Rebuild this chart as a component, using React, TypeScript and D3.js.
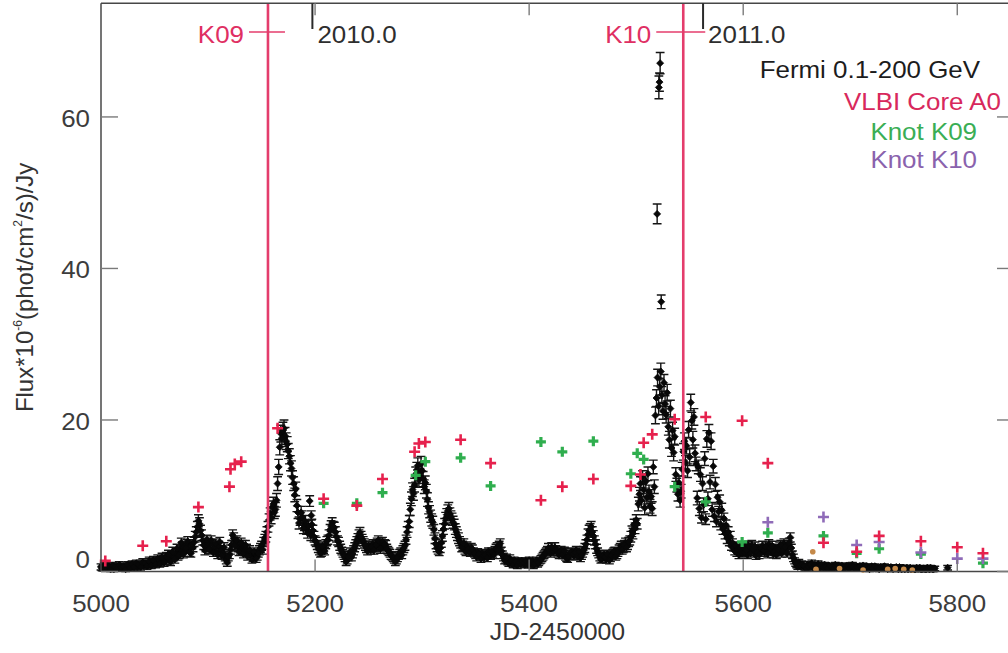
import React from 'react';
import * as d3 from 'd3';

const W = 1008;
const H = 653;

// Fermi-LAT 0.1-200 GeV light curve: [JD-2450000, flux, 1-sigma error]
const fermi: [number, number, number][] = [
  [5000,0.6,0.4],[5002,0.5,0.4],[5004,0.7,0.4],[5006,0.4,0.3],[5008,0.6,0.4],[5010,0.5,0.4],[5012,0.3,0.3],[5014,0.6,0.4],
  [5016,0.5,0.3],[5018,0.7,0.4],[5020,0.4,0.3],[5022,0.6,0.4],[5024,0.5,0.4],[5026,0.8,0.4],[5028,0.6,0.4],[5030,0.7,0.4],
  [5032,0.9,0.4],[5034,0.6,0.4],[5036,0.8,0.4],[5038,1.0,0.5],[5040,0.8,0.4],[5042,1.0,0.4],[5044,0.9,0.4],[5046,1.2,0.5],
  [5048,1.0,0.4],[5050,1.3,0.5],[5052,1.1,0.4],[5054,1.4,0.5],[5056,1.2,0.5],[5058,1.6,0.5],[5060,1.4,0.5],[5062,1.8,0.5],
  [5064,1.5,0.5],[5066,2.1,0.5],[5068,1.9,0.5],[5070,2.4,0.6],[5072,2.0,0.5],[5074,2.8,0.6],[5076,3.3,0.6],[5078,2.6,0.6],
  [5080,3.6,0.6],[5082,3.0,0.6],[5084,2.4,0.5],[5086,3.2,0.6],[5088,4.6,0.7],[5090,5.9,0.7],[5092,6.3,0.8],[5094,4.8,0.7],
  [5096,3.5,0.6],[5098,3.2,0.6],[5100,3.8,0.6],[5102,2.9,0.6],[5104,3.6,0.6],[5106,3.1,0.6],[5108,2.6,0.6],[5110,3.4,0.6],
  [5112,2.8,0.6],[5114,2.4,0.5],[5116,1.9,0.5],[5118,1.2,0.5],[5120,2.2,0.5],[5122,3.5,0.6],[5124,4.4,0.7],[5126,3.9,0.6],
  [5128,3.2,0.6],[5130,2.9,0.6],[5132,3.5,0.6],[5134,2.7,0.6],[5136,3.0,0.6],[5138,2.4,0.5],[5140,2.1,0.5],[5142,1.8,0.5],
  [5144,2.3,0.5],[5146,2.0,0.5],[5148,2.8,0.6],[5150,3.4,0.6],[5152,3.9,0.6],[5154,4.6,0.7],[5156,5.9,0.7],[5158,7.6,0.8],
  [5160,8.5,0.8],[5162,7.8,0.8],[5164,9.4,0.9],[5166,13.8,1.0],[5168,18.2,1.1],[5170,18.6,1.1],[5172,17.9,1.1],[5174,16.8,1.0],
  [5176,15.2,1.0],[5178,13.6,1.0],[5180,11.6,0.9],[5182,10.9,0.9],[5184,7.8,0.8],[5186,6.9,0.8],[5188,7.2,0.8],[5190,6.1,0.7],
  [5192,5.6,0.7],[5194,6.0,0.7],[5195,9.3,0.7],[5196.5,7.4,0.6],[5196,4.8,0.7],[5198,5.4,0.7],[5200,4.1,0.6],[5202,3.5,0.6],
  [5204,2.8,0.6],[5206,2.5,0.5],[5208,3.0,0.6],[5210,3.6,0.6],[5212,4.2,0.6],[5214,5.5,0.7],[5216,6.4,0.7],[5218,5.8,0.7],
  [5220,4.6,0.7],[5222,3.9,0.6],[5224,3.0,0.6],[5226,2.4,0.5],[5228,1.8,0.5],[5230,1.5,0.5],[5232,2.2,0.5],[5234,1.9,0.5],
  [5236,2.8,0.6],[5238,3.6,0.6],[5240,4.4,0.6],[5242,5.1,0.7],[5244,4.3,0.6],[5246,3.7,0.6],[5248,3.1,0.6],[5250,3.4,0.6],
  [5252,2.9,0.6],[5254,3.6,0.6],[5256,3.2,0.6],[5258,3.8,0.6],[5260,3.4,0.6],[5262,3.7,0.6],[5264,3.3,0.6],[5266,3.5,0.6],
  [5268,2.8,0.5],[5270,2.4,0.5],[5272,2.0,0.5],[5274,1.6,0.5],[5276,1.5,0.5],[5278,2.1,0.5],[5280,2.6,0.5],[5282,2.8,0.6],
  [5284,3.4,0.6],[5286,5.2,0.7],[5288,6.6,0.8],[5290,9.6,0.9],[5292,10.3,0.9],[5294,12.8,1.0],[5296,14.0,1.0],[5298,12.6,1.0],
  [5300,13.3,1.0],[5302,11.2,0.9],[5304,10.6,0.9],[5306,8.4,0.8],[5308,7.3,0.8],[5310,6.5,0.8],[5312,4.4,0.7],[5314,3.2,0.6],
  [5316,2.6,0.5],[5318,3.8,0.6],[5320,5.6,0.7],[5322,7.0,0.8],[5324,8.0,0.8],[5326,7.6,0.8],[5328,6.9,0.8],[5330,6.2,0.7],
  [5332,5.2,0.7],[5334,4.4,0.7],[5336,3.7,0.6],[5338,3.4,0.6],[5340,2.9,0.6],[5342,3.3,0.6],[5344,2.8,0.5],[5346,3.1,0.6],
  [5348,2.6,0.5],[5350,2.2,0.5],[5352,2.5,0.5],[5354,2.0,0.5],[5356,2.4,0.5],[5358,1.9,0.5],[5360,2.3,0.5],[5362,2.6,0.5],
  [5364,2.1,0.5],[5366,2.4,0.5],[5368,2.8,0.5],[5370,3.2,0.6],[5372,3.4,0.6],[5374,2.7,0.5],[5376,1.9,0.5],[5378,1.6,0.5],
  [5380,1.3,0.4],[5382,1.7,0.5],[5384,1.2,0.4],[5386,1.5,0.4],[5388,1.1,0.4],[5390,1.4,0.4],[5392,1.0,0.4],[5394,1.3,0.4],
  [5396,0.9,0.4],[5398,1.2,0.4],[5400,1.5,0.4],[5402,1.1,0.4],[5404,0.8,0.4],[5406,1.2,0.4],[5408,1.0,0.4],[5410,1.4,0.4],
  [5412,1.8,0.5],[5414,2.2,0.5],[5416,2.6,0.5],[5418,3.1,0.6],[5420,2.4,0.5],[5422,2.9,0.5],[5424,3.2,0.6],[5426,2.6,0.5],
  [5428,2.2,0.5],[5430,2.8,0.5],[5432,2.5,0.5],[5434,2.0,0.5],[5436,1.7,0.5],[5438,2.3,0.5],[5440,2.6,0.5],[5442,2.1,0.5],
  [5444,2.8,0.5],[5446,2.3,0.5],[5448,1.8,0.5],[5450,2.4,0.5],[5452,3.1,0.6],[5454,4.2,0.6],[5456,5.4,0.7],[5458,5.9,0.7],
  [5460,4.7,0.7],[5462,3.6,0.6],[5464,2.6,0.5],[5466,1.9,0.5],[5468,1.7,0.5],[5470,2.2,0.5],[5472,1.6,0.5],[5474,2.0,0.5],
  [5476,1.8,0.5],[5478,2.4,0.5],[5480,2.7,0.5],[5482,2.2,0.5],[5484,2.9,0.6],[5486,3.4,0.6],[5488,3.1,0.6],[5490,3.8,0.6],
  [5492,3.5,0.6],[5494,4.1,0.6],
  [5495,4.6,0.7],[5496,5.3,0.7],[5497,5.0,0.7],[5498,6.2,0.7],[5499,5.7,0.7],[5500,6.8,0.7],[5501,6.3,0.7],[5502,8.9,0.9],
  [5503,10.2,0.9],[5504,11.6,0.9],[5505,9.4,0.9],[5506,12.4,0.9],[5507,10.8,0.9],[5508,8.4,0.9],[5509,11.9,0.9],[5510,9.8,0.9],
  [5511,12.9,0.9],[5512,10.5,0.9],[5513,8.6,0.9],[5514,9.9,0.9],[5515,8.3,0.9],[5516,13.8,0.9],[5517,11.2,0.9],[5518,20.6,1.1],
  [5519,22.9,1.1],[5520,25.6,1.1],[5521,21.8,1.1],[5522,24.4,1.1],[5523,26.4,1.1],[5524,23.3,1.1],[5525,21.2,1.1],[5526,24.9,1.1],
  [5527,22.1,1.1],[5528,20.7,1.1],[5529,23.6,1.1],[5530,19.1,1.1],[5531,17.4,1.1],[5532,21.5,1.1],[5533,16.3,1.1],[5534,18.6,1.1],
  [5535,15.7,1.1],[5536,17.8,1.1],[5537,12.8,0.9],[5538,11.4,0.9],[5539,10.2,0.9],[5540,11.7,0.9],[5541,9.4,0.9],[5542,10.6,0.9],
  [5543,13.5,0.9],[5544,15.8,1.1],[5545,17.2,1.1],[5546,14.4,0.9],[5547,16.6,1.1],[5548,13.3,0.9],[5549,18.7,1.1],[5550,15.1,1.1],
  [5551,22.3,1.1],[5552,19.9,1.1],[5553,17.4,1.1],[5554,20.4,1.1],[5555,15.6,1.1],[5556,14.2,0.9],[5557,9.7,0.9],[5558,13.8,0.9],
  [5559,8.3,0.9],[5560,12.8,0.9],[5561,7.1,0.7],[5562,11.6,0.9],[5563,8.8,0.9],[5564,14.9,0.9],[5565,6.9,0.7],[5566,17.5,1.1],
  [5567,9.6,0.9],[5568,18.3,1.1],[5569,11.8,0.9],[5570,17.2,1.1],[5571,8.2,0.9],[5572,13.9,0.9],[5573,7.3,0.7],[5574,11.5,0.9],
  [5575,6.6,0.7],[5576,9.8,0.9],[5577,7.9,0.7],[5578,9.2,0.9],[5579,6.2,0.7],[5580,8.1,0.9],[5581,5.6,0.7],[5582,7.0,0.7],
  [5583,5.0,0.7],[5584,6.1,0.7],[5585,4.4,0.7],[5586,5.2,0.7],[5587,3.9,0.5],[5588,4.6,0.7],[5589,3.3,0.5],[5590,3.8,0.5],
  [5591,3.2,0.5],[5592,2.7,0.5],[5593,3.4,0.5],[5594,2.5,0.5],[5595,2.9,0.5],[5596,2.2,0.5],[5597,3.1,0.5],[5598,2.6,0.5],
  [5599,2.4,0.5],[5600,3.2,0.5],
  [5602,3.3,0.5],[5604,2.2,0.5],[5606,2.9,0.5],[5608,3.5,0.6],[5610,2.6,0.5],[5612,2.1,0.5],[5614,3.0,0.5],[5616,2.7,0.5],
  [5618,3.4,0.6],[5620,2.5,0.5],[5622,2.9,0.5],[5624,3.6,0.6],[5626,2.8,0.5],[5628,2.3,0.5],[5630,3.1,0.5],[5632,2.6,0.5],
  [5634,3.3,0.6],[5636,2.4,0.5],[5638,3.7,0.6],[5640,2.9,0.5],[5642,3.5,0.6],[5644,4.5,0.6],[5646,2.2,0.5],[5648,1.4,0.4],
  [5650,0.9,0.4],[5652,1.2,0.4],[5654,0.6,0.3],[5656,0.8,0.3],[5658,0.5,0.3],[5660,0.9,0.4],[5662,0.7,0.3],[5664,1.1,0.4],
  [5666,0.6,0.3],[5668,0.8,0.3],[5670,1.0,0.4],[5672,0.5,0.3],[5674,0.7,0.3],[5676,0.9,0.3],[5678,0.6,0.3],[5680,0.8,0.3],
  [5682,0.4,0.3],[5684,0.7,0.3],[5686,0.9,0.3],[5688,0.5,0.3],[5690,0.6,0.3],[5692,0.8,0.3],[5694,0.4,0.3],[5696,0.7,0.3],
  [5698,0.5,0.3],[5700,0.6,0.3],[5702,0.9,0.3],[5704,0.5,0.3],[5706,0.7,0.3],[5708,0.4,0.3],[5710,0.6,0.3],[5712,0.8,0.3],
  [5714,0.5,0.3],[5716,0.6,0.3],[5718,0.3,0.3],[5720,0.7,0.3],[5722,0.5,0.3],[5724,0.6,0.3],[5726,0.4,0.3],[5728,0.6,0.3],
  [5730,0.5,0.3],[5732,0.7,0.3],[5734,0.4,0.3],[5736,0.5,0.3],[5738,0.6,0.3],[5740,0.3,0.3],[5742,0.5,0.3],[5744,0.4,0.3],
  [5746,0.6,0.3],[5748,0.3,0.3],[5750,0.5,0.3],[5752,0.4,0.3],[5754,0.3,0.3],[5756,0.5,0.3],[5758,0.4,0.3],[5760,0.3,0.3],
  [5762,0.5,0.3],[5764,0.4,0.3],[5766,0.3,0.3],[5768,0.4,0.3],[5770,0.3,0.3],[5772,0.5,0.3],[5774,0.3,0.3],[5776,0.4,0.3],
  [5778,0.3,0.3],[5791,0.5,0.3],
];

// Interleaved bins on odd days, outside the densely sampled flare
const fermiOddDays: [number, number, number][] = [
  [5001,0.4,0.3],[5003,0.8,0.4],[5005,0.5,0.3],[5007,0.7,0.4],[5009,0.3,0.3],[5011,0.8,0.4],[5013,0.6,0.4],[5015,0.4,0.3],
  [5017,0.9,0.4],[5019,0.6,0.4],[5021,0.7,0.4],[5023,0.3,0.3],[5025,0.9,0.4],[5027,0.5,0.3],[5029,1.0,0.4],[5031,0.6,0.4],
  [5033,1.1,0.4],[5035,0.9,0.4],[5037,0.6,0.4],[5039,1.2,0.5],[5041,1.1,0.4],[5043,0.7,0.4],[5045,1.4,0.5],[5047,0.8,0.4],
  [5049,1.5,0.5],[5051,0.9,0.4],[5053,1.7,0.5],[5055,1.0,0.4],[5057,1.9,0.5],[5059,1.2,0.5],[5061,2.0,0.5],[5063,2.3,0.5],
  [5065,1.3,0.5],[5067,2.6,0.6],[5069,1.6,0.5],[5071,3.0,0.6],[5073,2.2,0.5],[5075,3.8,0.6],[5077,2.3,0.5],[5079,3.1,0.6],
  [5081,4.0,0.6],[5083,2.5,0.5],[5085,3.6,0.6],[5087,3.9,0.6],[5089,5.2,0.7],[5091,6.7,0.8],[5093,5.4,0.7],[5095,4.1,0.6],
  [5097,2.8,0.6],[5099,4.2,0.6],[5101,3.0,0.6],[5103,4.1,0.6],[5105,2.5,0.5],[5107,3.7,0.6],[5109,2.2,0.5],[5111,3.9,0.6],
  [5113,2.1,0.5],[5115,3.2,0.6],[5117,1.5,0.5],[5119,1.9,0.5],[5121,2.9,0.6],[5123,4.8,0.7],[5125,3.4,0.6],[5127,4.1,0.6],
  [5129,2.6,0.5],[5131,3.8,0.6],[5133,2.3,0.5],[5135,3.5,0.6],[5137,2.0,0.5],[5139,2.8,0.6],[5141,1.6,0.5],[5143,2.6,0.5],
  [5145,1.7,0.5],[5147,2.4,0.5],[5149,3.1,0.6],[5151,2.9,0.6],[5153,4.3,0.6],[5155,5.2,0.7],[5157,6.8,0.8],[5159,7.1,0.8],
  [5161,8.9,0.9],[5163,8.2,0.9],[5165,11.6,0.9],[5167,16.4,1.0],[5169,17.6,1.1],[5171,18.9,1.1],[5173,17.2,1.1],[5175,15.9,1.0],
  [5177,14.3,1.0],[5179,12.4,0.9],[5181,10.1,0.9],[5183,8.7,0.8],[5185,6.4,0.8],[5187,7.8,0.8],[5189,5.7,0.7],[5191,6.6,0.8],
  [5193,5.1,0.7],[5197,6.2,0.7],[5199,4.6,0.7],[5201,3.9,0.6],[5203,3.1,0.6],[5205,2.4,0.5],[5207,3.3,0.6],[5209,2.7,0.5],
  [5211,4.0,0.6],[5213,4.8,0.7],[5215,6.0,0.7],[5217,5.9,0.7],[5219,5.2,0.7],[5221,4.1,0.6],[5223,3.4,0.6],[5225,2.7,0.5],
  [5227,2.1,0.5],[5229,1.3,0.5],[5231,1.9,0.5],[5233,2.6,0.5],[5235,2.3,0.5],[5237,3.2,0.6],[5239,4.0,0.6],[5241,4.8,0.7],
  [5243,4.6,0.7],[5245,4.0,0.6],[5247,3.4,0.6],[5249,2.7,0.5],[5251,3.1,0.6],[5253,3.3,0.6],[5255,2.8,0.5],[5257,3.5,0.6],
  [5259,4.1,0.6],[5261,3.0,0.6],[5263,3.9,0.6],[5265,3.6,0.6],[5267,3.0,0.6],[5269,2.6,0.5],[5271,2.1,0.5],[5273,1.8,0.5],
  [5275,1.3,0.5],[5277,1.8,0.5],[5279,2.4,0.5],[5281,2.2,0.5],[5283,3.1,0.6],[5285,4.2,0.6],[5287,5.9,0.7],[5289,8.2,0.8],
  [5291,10.8,0.9],[5293,11.4,0.9],[5295,13.4,1.0],[5297,12.1,1.0],[5299,14.2,1.0],[5301,12.2,1.0],[5303,11.7,0.9],[5305,9.5,0.9],
  [5307,7.9,0.8],[5309,6.8,0.8],[5311,5.5,0.7],[5313,3.6,0.6],[5315,2.9,0.6],[5317,3.1,0.6],[5319,4.7,0.7],[5321,6.3,0.7],
  [5323,7.5,0.8],[5325,8.3,0.8],[5327,7.2,0.8],[5329,6.5,0.8],[5331,5.6,0.7],[5333,4.8,0.7],[5335,4.0,0.6],[5337,3.2,0.6],
  [5339,3.7,0.6],[5341,2.6,0.5],[5343,3.0,0.6],[5345,2.5,0.5],[5347,2.9,0.6],[5349,2.4,0.5],[5351,1.9,0.5],[5353,2.3,0.5],
  [5355,1.7,0.5],[5357,2.1,0.5],[5359,2.2,0.5],[5361,1.8,0.5],[5363,2.4,0.5],[5365,2.6,0.5],[5367,2.2,0.5],[5369,3.0,0.6],
  [5371,2.8,0.5],[5373,3.7,0.6],[5375,2.2,0.5],[5377,1.5,0.5],[5379,1.8,0.5],[5381,1.1,0.4],[5383,1.4,0.4],[5385,0.9,0.4],
  [5387,1.3,0.4],[5389,0.8,0.4],[5391,1.2,0.4],[5393,1.4,0.4],[5395,1.1,0.4],[5397,1.4,0.4],[5399,0.9,0.4],[5401,1.3,0.4],
  [5403,1.4,0.4],[5405,1.0,0.4],[5407,1.5,0.4],[5409,1.2,0.4],[5411,1.6,0.5],[5413,2.0,0.5],[5415,2.4,0.5],[5417,2.8,0.5],
  [5419,2.7,0.5],[5421,3.2,0.6],[5423,2.6,0.5],[5425,2.9,0.5],[5427,2.4,0.5],[5429,2.6,0.5],[5431,2.2,0.5],[5433,2.7,0.5],
  [5435,1.8,0.5],[5437,2.0,0.5],[5439,2.5,0.5],[5441,2.3,0.5],[5443,2.5,0.5],[5445,2.0,0.5],[5447,2.6,0.5],[5449,2.1,0.5],
  [5451,2.8,0.5],[5453,3.6,0.6],[5455,4.9,0.7],[5457,5.6,0.7],[5459,5.2,0.7],[5461,4.1,0.6],[5463,3.0,0.6],[5465,2.3,0.5],
  [5467,1.6,0.5],[5469,2.0,0.5],[5471,1.9,0.5],[5473,2.3,0.5],[5475,1.5,0.5],[5477,2.1,0.5],[5479,2.6,0.5],[5481,2.0,0.5],
  [5483,2.5,0.5],[5485,3.1,0.6],[5487,2.9,0.6],[5489,3.5,0.6],[5491,3.2,0.6],[5493,3.9,0.6],
  [5601,2.5,0.5],[5603,2.8,0.5],[5605,3.4,0.6],[5607,2.4,0.5],[5609,3.0,0.5],[5611,3.3,0.6],[5613,2.5,0.5],[5615,2.2,0.5],
  [5617,3.1,0.5],[5619,2.8,0.5],[5621,3.3,0.6],[5623,2.3,0.5],[5625,3.1,0.5],[5627,3.4,0.6],[5629,2.6,0.5],[5631,2.2,0.5],
  [5633,2.9,0.5],[5635,3.5,0.6],[5637,2.7,0.5],[5639,3.2,0.6],[5641,2.4,0.5],[5643,3.8,0.6],[5645,3.1,0.5],[5647,1.8,0.5],
  [5649,1.1,0.4],[5651,0.6,0.3],[5653,0.9,0.4],[5655,1.0,0.4],[5657,0.7,0.3],[5659,0.4,0.3],[5661,0.6,0.3],[5663,0.9,0.3],
  [5665,0.5,0.3],[5667,0.9,0.3],[5669,0.6,0.3],[5671,0.8,0.3],[5673,0.9,0.3],[5675,0.5,0.3],[5677,0.6,0.3],[5679,0.4,0.3],
  [5681,0.7,0.3],[5683,0.6,0.3],[5685,0.5,0.3],[5687,0.7,0.3],[5689,0.8,0.3],[5691,0.4,0.3],[5693,0.6,0.3],[5695,0.5,0.3],
  [5697,0.8,0.3],[5699,0.4,0.3],[5701,0.7,0.3],[5703,0.6,0.3],[5705,0.4,0.3],[5707,0.5,0.3],[5709,0.7,0.3],[5711,0.4,0.3],
  [5713,0.6,0.3],[5715,0.7,0.3],[5717,0.4,0.3],[5719,0.5,0.3],[5721,0.4,0.3],[5723,0.7,0.3],[5725,0.5,0.3],[5727,0.3,0.3],
  [5729,0.4,0.3],[5731,0.6,0.3],[5733,0.5,0.3],[5735,0.3,0.3],[5737,0.4,0.3],[5739,0.5,0.3],[5741,0.4,0.3],[5743,0.6,0.3],
  [5745,0.3,0.3],[5747,0.4,0.3],[5749,0.5,0.3],[5751,0.3,0.3],[5753,0.5,0.3],[5755,0.4,0.3],[5757,0.3,0.3],[5759,0.4,0.3],
  [5761,0.3,0.3],[5763,0.4,0.3],[5765,0.5,0.3],[5767,0.3,0.3],[5769,0.4,0.3],[5771,0.3,0.3],[5773,0.4,0.3],[5775,0.5,0.3],
  [5777,0.3,0.3],[5779,0.4,0.3],
];

// The giant flare around JD 2455520
const fermiFlare: [number, number, number][] = [
  [5519.6,47.2,1.3],[5521.2,63.9,1.5],[5521.8,64.6,1.2],[5522.4,67.1,1.4],[5523.4,35.6,0.9],
];

// Low-significance bins (drawn in brown)
const fermiFaint: [number, number][] = [
  [5665,2.6],[5668,0.3],[5690,0.4],[5712,0.2],[5735,0.3],[5742,0.4],[5750,0.3],[5758,0.2],
];

// 43 GHz VLBI flux densities (Jy)
const vlbiCore: [number, number][] = [
  [5004,1.4],[5039,3.4],[5061,4.0],[5091,8.5],[5120,11.2],[5121,13.5],[5125,14.2],[5131,14.5],[5165,18.9],
  [5208,9.6],[5239,8.7],[5263,12.2],[5293,15.8],[5297,16.9],[5303,17.1],[5336,17.4],[5364,14.3],[5411,9.4],
  [5431,11.2],[5460,12.2],[5495,11.3],[5504,12.8],[5507,17.0],[5515,18.1],[5536,20.1],[5565,20.4],[5599,19.9],
  [5623,14.3],[5675,3.8],[5706,2.6],[5727,4.7],[5766,4.0],[5800,3.2],[5824,2.4],
];
const knotK09: [number, number][] = [
  [5208,9.0],[5239,9.0],[5263,10.4],[5294,12.7],[5303,14.5],[5336,15.0],[5364,11.3],[5411,17.1],[5431,15.8],
  [5460,17.2],[5495,12.9],[5501,15.6],[5507,14.8],[5536,11.2],[5565,9.2],[5599,3.9],[5623,5.1],[5675,4.7],
  [5706,2.4],[5727,3.0],[5766,2.3],[5824,1.1],
];
const knotK10: [number, number][] = [
  [5623,6.5],[5675,7.2],[5706,3.5],[5727,3.9],[5766,2.5],[5800,1.7],[5824,1.7],
];

// Ejection epochs of the knots and calendar year boundaries
const knotEpochs = [
  { name: 'K09', jd: 5156, left: 19, right: 17 },
  { name: 'K10', jd: 5544, left: 27, right: 22 },
];
const yearMarks = [
  { label: '2010.0', jd: 5197.5 },
  { label: '2011.0', jd: 5562.5 },
];

const xTicks = [5000, 5200, 5400, 5600, 5800];
const yTicks = [0, 20, 40, 60];

const legendItems = [
  { text: 'Fermi 0.1-200 GeV', color: '#1c1c1c', x: 980, y: 78 },
  { text: 'VLBI Core A0', color: '#d8285c', x: 1001, y: 110 },
  { text: 'Knot K09', color: '#3aae55', x: 977, y: 140 },
  { text: 'Knot K10', color: '#8a62ad', x: 977, y: 168 },
];

const FONT = '"Liberation Sans", Arial, Helvetica, sans-serif';
const RED_LINE = '#e43d6c';
const RED = '#e6214d';
const GREEN = '#2fae4e';
const PURPLE = '#8f6bb8';

const x = d3.scaleLinear().domain([5000, 5853]).range([101, 1014]);
const y = d3.scaleLinear().domain([0, 75]).range([571.5, 3.3]);

type TProps = {
  x: number;
  y: number;
  anchor?: 'start' | 'middle' | 'end';
  size?: number;
  fill?: string;
  children: React.ReactNode;
};

// Text slightly widened horizontally, like the original plot's lettering
function T({ x: tx, y: ty, anchor = 'start', size = 24, fill = '#3a3a3a', children }: TProps) {
  return (
    <g transform={`translate(${tx},${ty}) scale(1.08,1)`}>
      <text textAnchor={anchor} fontSize={size} fill={fill} fontFamily={FONT}>
        {children}
      </text>
    </g>
  );
}

function cross(cx: number, cy: number, s: number) {
  return `M${cx - s},${cy}H${cx + s}M${cx},${cy - s}V${cy + s}`;
}

function diamond(cx: number, cy: number, s: number) {
  return `M${cx},${cy - s}L${cx + s},${cy}L${cx},${cy + s}L${cx - s},${cy}Z`;
}

function errBar(cx: number, lo: number, hi: number, cap: number) {
  return `M${cx},${lo}V${hi}M${cx - cap},${lo}H${cx + cap}M${cx - cap},${hi}H${cx + cap}`;
}

export default function App() {
  const x0 = x.range()[0];
  const x1 = x.range()[1];
  const y0 = y.range()[0];
  const y1 = y.range()[1];
  const all = [...fermi, ...fermiOddDays, ...fermiFlare];

  return (
    <svg
      width={W}
      height={H}
      viewBox={`0 0 ${W} ${H}`}
      style={{ position: 'absolute', left: 0, top: 0, background: '#fff' }}
    >
      <rect width={W} height={H} fill="#fff" />

      {/* Fermi error bars and points */}
      <g stroke="#141414" strokeWidth={1.4} fill="none">
        {all.map(([d, f, e], i) => (
          <path key={i} d={errBar(x(d), y(Math.max(0, f - e)), y(f + e), 4.4)} />
        ))}
      </g>
      <g fill="#080808" stroke="#080808" strokeWidth={0.8}>
        {all.map(([d, f], i) => (
          <path key={i} d={diamond(x(d), y(f), 3.5)} />
        ))}
      </g>
      <g fill="#c58a4a">
        {fermiFaint.map(([d, f], i) => (
          <circle key={i} cx={x(d)} cy={y(f)} r={2.8} />
        ))}
      </g>

      {/* Knot ejection epochs */}
      {knotEpochs.map((k) => (
        <g key={k.name}>
          <line x1={x(k.jd)} x2={x(k.jd)} y1={y1} y2={y0} stroke={RED_LINE} strokeWidth={2.6} />
          <line x1={x(k.jd) - k.left} x2={x(k.jd) + k.right} y1={32} y2={32} stroke={RED_LINE} strokeWidth={1.6} />
          <T x={x(k.jd) - k.left - 5} y={43} anchor="end" fill="#df2f63">
            {k.name}
          </T>
        </g>
      ))}

      {/* VLBI core and knots */}
      <g stroke={GREEN} strokeWidth={3.2} fill="none">
        {knotK09.map(([d, f], i) => (
          <path key={i} d={cross(x(d), y(f), 5)} />
        ))}
      </g>
      <g stroke={PURPLE} strokeWidth={2.6} fill="none">
        {knotK10.map(([d, f], i) => (
          <path key={i} d={cross(x(d), y(f), 5.5)} />
        ))}
      </g>
      <g stroke={RED} strokeWidth={2.6} fill="none">
        {vlbiCore.map(([d, f], i) => (
          <path key={i} d={cross(x(d), y(f), 5.5)} />
        ))}
      </g>

      {/* Frame */}
      <g stroke="#474747" strokeWidth={1.5} fill="none">
        <line x1={x0} x2={x0} y1={y1} y2={y0} />
        <line x1={x0} x2={W} y1={y0} y2={y0} />
        <line x1={x0} x2={W} y1={y1} y2={y1} />
      </g>

      {/* Ticks */}
      <g stroke="#7a7a7a" strokeWidth={1.4}>
        {yTicks.map((t) => (
          <g key={t}>
            <line x1={x0} x2={x0 + 17} y1={y(t)} y2={y(t)} />
            <line x1={x1 - 17} x2={x1} y1={y(t)} y2={y(t)} />
          </g>
        ))}
        {xTicks.slice(1).map((t) => (
          <g key={t}>
            <line x1={x(t)} x2={x(t)} y1={y0} y2={y0 - 12} />
            <line x1={x(t)} x2={x(t)} y1={y1} y2={y1 + 12} />
          </g>
        ))}
      </g>

      {/* Year markers on top axis */}
      {yearMarks.map((m) => (
        <g key={m.label}>
          <line x1={x(m.jd)} x2={x(m.jd)} y1={y1} y2={29} stroke="#2a2a2a" strokeWidth={2} />
          <T x={x(m.jd) + 5} y={43} fill="#2e2e2e">
            {m.label}
          </T>
        </g>
      ))}

      {/* Tick labels */}
      {xTicks.map((t) => (
        <T key={t} x={x(t)} y={612} anchor="middle" fill="#3c3c3c">
          {t}
        </T>
      ))}
      {yTicks.map((t) => (
        <T key={t} x={90} y={t === 0 ? 568 : y(t) + 10} anchor="end" fill="#3c3c3c">
          {t}
        </T>
      ))}

      {/* Axis titles */}
      <T x={(x0 + x1) / 2} y={640} anchor="middle" size={23} fill="#333">
        JD-2450000
      </T>
      <text
        transform={`translate(33,${(y0 + y1) / 2}) rotate(-90)`}
        textAnchor="middle"
        fontSize={24}
        fill="#333"
        fontFamily={FONT}
      >
        Flux*10
        <tspan fontSize={12} dy={-11}>-6</tspan>
        <tspan dy={11}>(phot/cm</tspan>
        <tspan fontSize={12} dy={-11}>2</tspan>
        <tspan dy={11}>/s)/Jy</tspan>
      </text>

      {/* Legend */}
      {legendItems.map((l) => (
        <T key={l.text} x={l.x} y={l.y} anchor="end" fill={l.color}>
          {l.text}
        </T>
      ))}
    </svg>
  );
}
